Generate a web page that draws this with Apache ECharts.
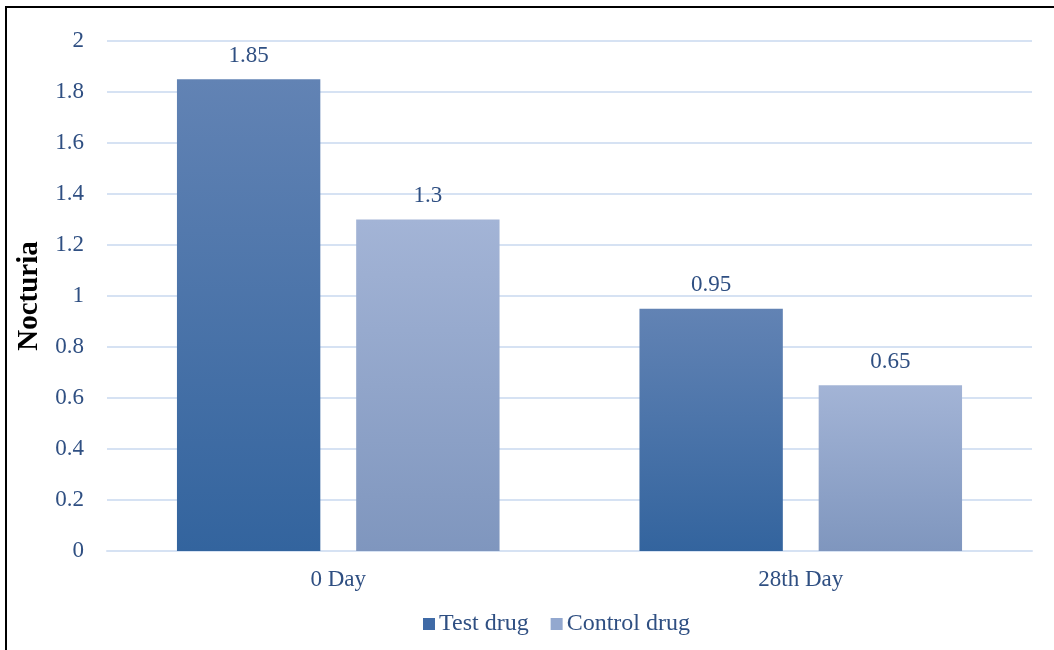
<!DOCTYPE html>
<html>
<head>
<meta charset="utf-8">
<script src="https://cdn.jsdelivr.net/npm/echarts@6/dist/echarts.min.js"></script>
<style>
  html, body { margin: 0; padding: 0; background: #fff; }
  #chart { width: 1054px; height: 650px; }
</style>
</head>
<body>
<div id="chart"></div>
<script>
// Nocturia scores at baseline and after 28 days
const categories = ['0 Day', '28th Day'];
const testDrug = [1.85, 0.95];
const controlDrug = [1.3, 0.65];
const seriesNames = ['Test drug', 'Control drug'];

const textColor = '#2f4f82';
const serif = '"Liberation Serif", "DejaVu Serif", serif';

function grad(top, bottom) {
  return new echarts.graphic.LinearGradient(0, 0, 0, 1, [
    { offset: 0, color: top },
    { offset: 1, color: bottom }
  ]);
}

const labelStyle = {
  show: true,
  position: 'top',
  distance: 12,
  color: textColor,
  fontFamily: serif,
  fontSize: 23
};

const chart = echarts.init(document.getElementById('chart'));
chart.setOption({
  animation: false,
  backgroundColor: '#ffffff',
  graphic: [{
    type: 'rect',
    shape: { x: 6, y: 7, width: 1100, height: 700 },
    style: { fill: 'none', stroke: '#000', lineWidth: 2 },
    silent: true,
    z: -1
  }],
  grid: { left: 107, right: 22, top: 41, bottom: 99 },
  legend: {
    bottom: 9,
    left: 418,
    itemWidth: 12,
    itemHeight: 12,
    itemGap: 22,
    icon: 'rect',
    textStyle: { color: textColor, fontFamily: serif, fontSize: 24, padding: [0, 0, 0, -1] },
    data: [
      { name: seriesNames[0], itemStyle: { color: '#3f6aa6' } },
      { name: seriesNames[1], itemStyle: { color: '#93a8cf' } }
    ]
  },
  xAxis: {
    type: 'category',
    data: categories,
    axisLine: { lineStyle: { color: '#d6e2f3', width: 2 } },
    axisTick: { show: false },
    axisLabel: { color: textColor, fontFamily: serif, fontSize: 23, margin: 17 }
  },
  yAxis: {
    type: 'value',
    min: 0,
    max: 2,
    interval: 0.2,
    name: 'Nocturia',
    nameLocation: 'middle',
    nameGap: 62,
    nameTextStyle: { color: '#000', fontFamily: serif, fontSize: 29, fontWeight: 'bold' },
    axisLine: { show: false },
    axisTick: { show: false },
    axisLabel: { color: textColor, fontFamily: serif, fontSize: 23, margin: 23 },
    splitLine: { lineStyle: { color: '#d6e2f3', width: 2 } }
  },
  series: [
    {
      name: seriesNames[0],
      type: 'bar',
      data: testDrug,
      barWidth: '31%',
      barGap: '25%',
      itemStyle: { color: grad('#6283b4', '#33649e') },
      label: labelStyle
    },
    {
      name: seriesNames[1],
      type: 'bar',
      data: controlDrug,
      barWidth: '31%',
      itemStyle: { color: grad('#a3b4d6', '#7f96be') },
      label: labelStyle
    }
  ]
});
</script>
</body>
</html>
